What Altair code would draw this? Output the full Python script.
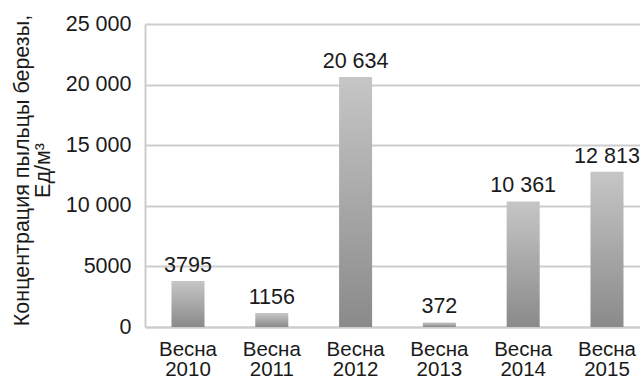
import altair as alt
import pandas as pd

# Birch pollen concentration by spring season
seasons = ["Весна 2010", "Весна 2011", "Весна 2012", "Весна 2013", "Весна 2014", "Весна 2015"]
pollen = [3795, 1156, 20634, 372, 10361, 12813]
y_ticks = [0, 5000, 10000, 15000, 20000, 25000]


def ru_number(v):
    # Russian style: thousands separated by a space from five digits on
    return f"{v:,}".replace(",", " ") if v >= 10000 else str(v)


df = pd.DataFrame({
    "season": seasons,
    "pollen": pollen,
    "label": [ru_number(v) for v in pollen],
})

FONT = "Liberation Sans"
GRID = "#cdcdcd"
INK = "#1a1a1a"

x = alt.X(
    "season:N",
    sort=seasons,
    title=None,
    scale=alt.Scale(paddingInner=0.606, paddingOuter=0.2565, align=0.616),
    axis=alt.Axis(
        labelAngle=0,
        labelExpr="split(datum.label, ' ')",
        labelFont=FONT,
        labelFontSize=20.5,
        labelLineHeight=20.5,
        labelColor=INK,
        labelPadding=12,
        ticks=False,
        domainColor=GRID,
        domainWidth=2,
    ),
)

y = alt.Y(
    "pollen:Q",
    scale=alt.Scale(domain=[0, 25000], nice=False),
    title=["Концентрация пыльцы березы,", "Ед/м³"],
    axis=alt.Axis(
        values=y_ticks,
        labelExpr="datum.value >= 10000 ? replace(format(datum.value, ','), ',', ' ') : format(datum.value, 'd')",
        labelFont=FONT,
        labelFontSize=21.5,
        labelColor=INK,
        labelPadding=14,
        ticks=False,
        domainColor=GRID,
        domainWidth=2,
        gridColor=GRID,
        gridWidth=2,
        titleFont=FONT,
        titleFontSize=21.5,
        titleFontWeight="normal",
        titleColor=INK,
        titleLineHeight=21.5,
        titleAngle=-90,
        titleAlign="center",
        titleBaseline="middle",
        titleX=-123,
        titleY=146,
    ),
)

bars = alt.Chart(df).mark_bar(
    color=alt.Gradient(
        gradient="linear",
        x1=0, y1=0, x2=0, y2=1,
        stops=[
            alt.GradientStop(offset=0, color="#c6c6c6"),
            alt.GradientStop(offset=1, color="#8a8a8a"),
        ],
    )
).encode(x=x, y=y)

labels = alt.Chart(df).mark_text(
    font=FONT, fontSize=21.5, color=INK, baseline="bottom", dy=-4
).encode(x=alt.X("season:N", sort=seasons), y="pollen:Q", text="label:N")

chart = (
    alt.layer(bars, labels)
    .properties(
        width=495,
        height=303,
        autosize=alt.AutoSizeParams(type="none"),
        padding={"left": 145, "top": 24, "right": 0, "bottom": 54},
    )
    .configure_view(stroke=None)
    .configure(background="white")
)

chart.save("out.html", embed_options={"renderer": "svg", "actions": False})
